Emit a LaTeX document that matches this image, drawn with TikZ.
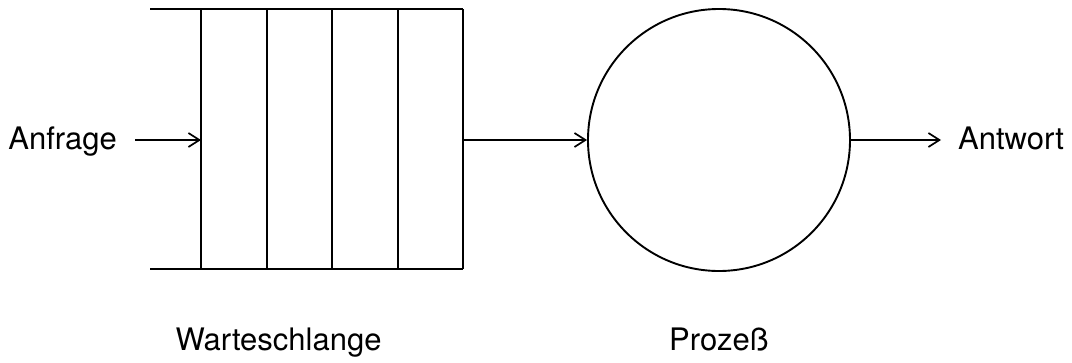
\documentclass[tikz,border=0pt]{standalone}
\usepackage{fontspec}
\setmainfont{TeX Gyre Heros}
\usetikzlibrary{arrows.meta}
\begin{document}
\begin{tikzpicture}[x=1pt,y=-1pt,
  line/.style={line width=1.9pt},
  flow/.style={line width=1.7pt,-{Straight Barb[length=11pt,width=14pt,line width=1.7pt]}},
  lbl/.style={font=\fontsize{31}{36}\selectfont, inner sep=0pt}]
\useasboundingbox (0,0) rectangle (1072,362);
% queue
\coordinate (ql) at (150,9);
\coordinate (qbl) at (150,269);
\coordinate (qtr) at (463,9);
\coordinate (qbr) at (463,269);
\draw[line] (ql) -- (qtr);
\draw[line] (qbl) -- (qbr);
\foreach \x in {201,267,332,398,463} \draw[line] (\x,9) -- (\x,269);
\coordinate (qin) at (201,140);
\coordinate (qout) at (463,140);
% process
\node[draw, circle, line width=1.9pt, minimum size=262pt, inner sep=0pt] (proc) at (719,140) {};
% labels
\node[lbl, anchor=base east] (anf) at (117,149) {Anfrage};
\node[lbl, anchor=base west] (ant) at (958,149) {Antwort};
\node[lbl, anchor=base] (ws) at (278.5,350) {Warteschlange};
\node[lbl, anchor=base] (pz) at (719,350) {Prozeß};
% arrows
\coordinate (a0) at (135,140);
\coordinate (a1) at (941,140);
\draw[flow] (a0) -- (qin);
\draw[flow] (qout) -- (proc.west);
\draw[flow] (proc.east) -- (a1);
\end{tikzpicture}
\end{document}
